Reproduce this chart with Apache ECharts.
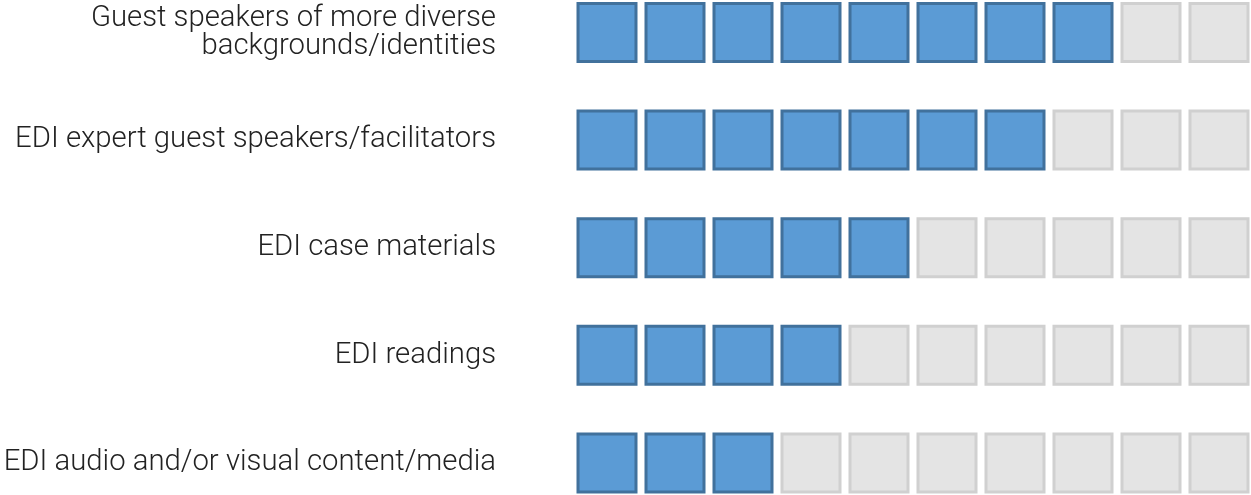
<!DOCTYPE html>
<html>
<head>
<meta charset="utf-8">
<script src="https://cdn.jsdelivr.net/npm/echarts@6/dist/echarts.min.js"></script>
<style>
html,body{margin:0;padding:0;background:#fff;}
#chart{width:1251px;height:495px;}
</style>
</head>
<body>
<div id="chart"></div>
<script>
const categories = [
  'Guest speakers of more diverse\nbackgrounds/identities',
  'EDI expert guest speakers/facilitators',
  'EDI case materials',
  'EDI readings',
  'EDI audio and/or visual content/media'
];
const filledCounts = [8, 7, 5, 4, 3];
const totalSquares = 10;
const columnLabels = ['1','2','3','4','5','6','7','8','9','10'];

const cells = [];
categories.forEach((c, r) => {
  for (let i = 0; i < totalSquares; i++) {
    cells.push([i, r, i < filledCounts[r] ? 1 : 0]);
  }
});

const chart = echarts.init(document.getElementById('chart'), null, {renderer: 'canvas'});
chart.setOption({
  animation: false,
  backgroundColor: '#ffffff',
  grid: {left: 573, width: 680, top: -21.3, height: 538, containLabel: false, outerBoundsMode: 'none'},
  xAxis: {
    type: 'category', data: columnLabels, show: false
  },
  yAxis: {
    type: 'category', data: categories, inverse: true,
    axisLine: {show: false}, axisTick: {show: false}, splitLine: {show: false},
    axisLabel: {
      margin: 77, fontSize: 29.3, lineHeight: 28, color: '#222',
      fontFamily: 'Roboto', fontWeight: 300, align: 'right'
    }
  },
  series: [{
    type: 'custom',
    data: cells,
    renderItem: function (params, api) {
      const c = api.coord([api.value(0), api.value(1)]);
      const s = api.size([1, 1]);
      const w = s[0] - 10;
      const filled = api.value(2) === 1;
      return {
        type: 'rect',
        shape: {x: c[0] - w / 2, y: c[1] - w / 2, width: w, height: w},
        style: {
          fill: filled ? '#5b9bd5' : '#e4e4e4',
          stroke: filled ? '#41719c' : '#d0d0d0',
          lineWidth: 3
        }
      };
    }
  }]
});
</script>
</body>
</html>
